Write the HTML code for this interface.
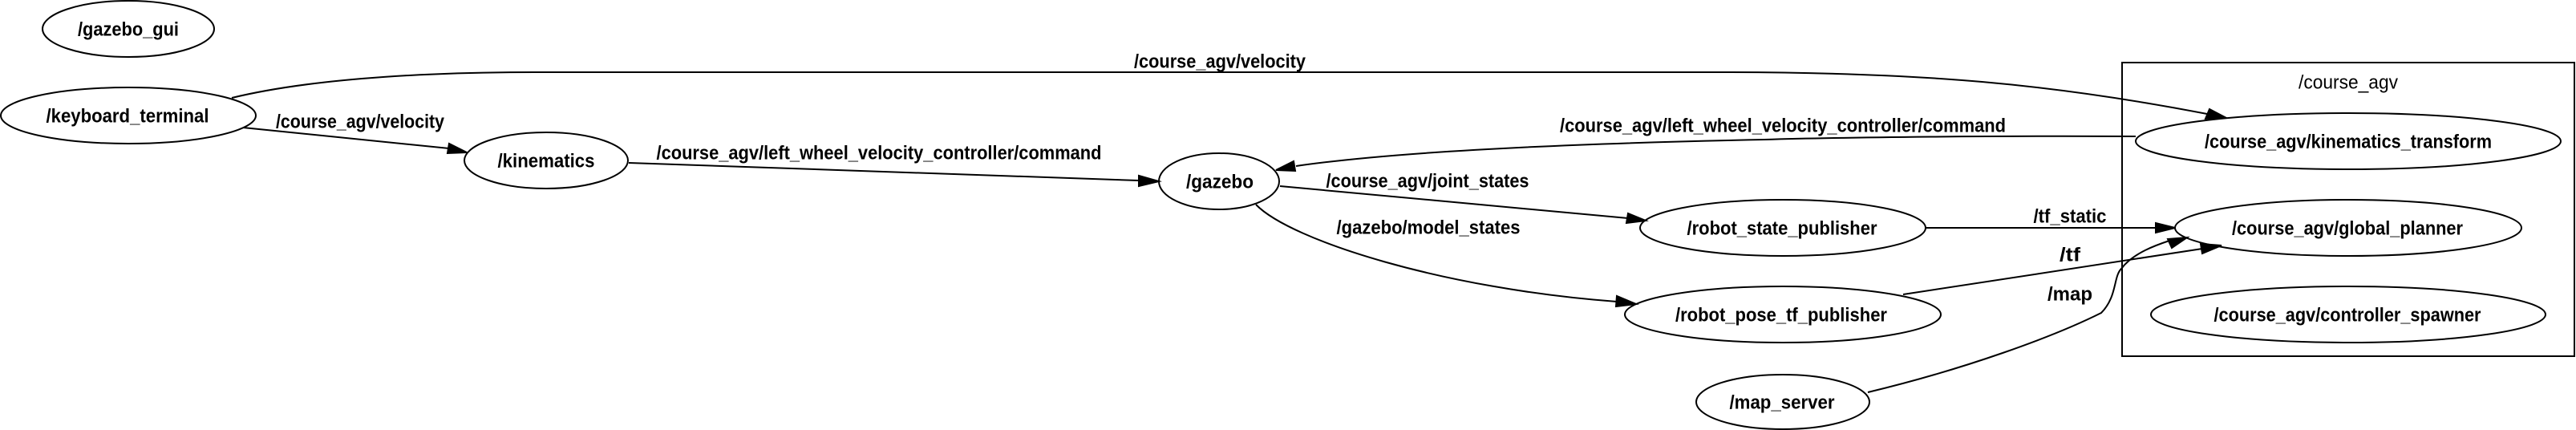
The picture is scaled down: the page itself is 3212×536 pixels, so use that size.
<!DOCTYPE html>
<html><head><meta charset="utf-8"><style>
html,body{margin:0;padding:0;background:#fff;}
svg{display:block;}
text{font-family:"Liberation Sans","DejaVu Sans",sans-serif;font-weight:bold;font-size:24px;fill:#000;}
</style></head><body>
<svg width="3212" height="536" viewBox="0 0 3212 536" xmlns="http://www.w3.org/2000/svg">
<g fill="none" stroke="#000" stroke-width="2">
<rect x="2646" y="78" width="564" height="366"/>
<ellipse cx="160" cy="36" rx="107" ry="35"/>
<ellipse cx="160" cy="144" rx="159" ry="35"/>
<ellipse cx="681" cy="200" rx="102" ry="35"/>
<ellipse cx="1520" cy="226" rx="75" ry="35"/>
<ellipse cx="2223" cy="284" rx="178" ry="35"/>
<ellipse cx="2223" cy="392" rx="197" ry="35"/>
<ellipse cx="2223" cy="501" rx="108" ry="34"/>
<ellipse cx="2928" cy="176" rx="265" ry="35"/>
<ellipse cx="2928" cy="284" rx="216" ry="35"/>
<ellipse cx="2928" cy="392" rx="246" ry="35"/>
<path d="M289,122 C400,95 560,90 666,90 L2150,90 C2400,90 2560,105 2752,142"/>
<path d="M303,159 L560,185"/>
<path d="M784,203 L1420,225"/>
<path d="M2663,170 C2500,169 2300,171 2200,174 C1900,180 1720,192 1616,207"/>
<path d="M1596,232 L2030,272"/>
<path d="M1566,255 C1610,300 1800,360 2016,376"/>
<path d="M2401,284 L2688,284"/>
<path d="M2373,367 L2746,310"/>
<path d="M2329,489 C2450,460 2560,420 2620,390 C2640,370 2635,345 2645,335 C2660,315 2690,305 2705,300"/>
</g>
<g fill="#000" stroke="#000" stroke-width="2">
<polygon points="2776,147 2750,148 2755,136"/>
<polygon points="582,190 558,191 560,179"/>
<polygon points="1445,226 1420,232 1420,219"/>
<polygon points="1591,212 1613,201 1615,213"/>
<polygon points="2052,275 2028,278 2030,266"/>
<polygon points="2040,379 2015,382 2016,369"/>
<polygon points="2712,284 2688,290 2688,278"/>
<polygon points="2770,306 2746,316 2744,304"/>
<polygon points="2727,296 2708,309 2703,298"/>
</g>
<g text-anchor="middle" dominant-baseline="central">
<text x="160" y="37" textLength="126" lengthAdjust="spacingAndGlyphs">/gazebo_gui</text>
<text x="159" y="145" textLength="203" lengthAdjust="spacingAndGlyphs">/keyboard_terminal</text>
<text x="681" y="201" textLength="121" lengthAdjust="spacingAndGlyphs">/kinematics</text>
<text x="1521" y="227" textLength="84" lengthAdjust="spacingAndGlyphs">/gazebo</text>
<text x="2222" y="285" textLength="237" lengthAdjust="spacingAndGlyphs">/robot_state_publisher</text>
<text x="2221" y="393" textLength="264" lengthAdjust="spacingAndGlyphs">/robot_pose_tf_publisher</text>
<text x="2222" y="502" textLength="131" lengthAdjust="spacingAndGlyphs">/map_server</text>
<text x="2928" y="103" textLength="124" lengthAdjust="spacingAndGlyphs" style="font-weight:normal">/course_agv</text>
<text x="2928" y="177" textLength="358" lengthAdjust="spacingAndGlyphs">/course_agv/kinematics_transform</text>
<text x="2927" y="285" textLength="288" lengthAdjust="spacingAndGlyphs">/course_agv/global_planner</text>
<text x="2927" y="393" textLength="333" lengthAdjust="spacingAndGlyphs">/course_agv/controller_spawner</text>
<text x="1521" y="77" textLength="214" lengthAdjust="spacingAndGlyphs">/course_agv/velocity</text>
<text x="449" y="152" textLength="210" lengthAdjust="spacingAndGlyphs">/course_agv/velocity</text>
<text x="1096" y="191" textLength="555" lengthAdjust="spacingAndGlyphs">/course_agv/left_wheel_velocity_controller/command</text>
<text x="2223" y="157" textLength="556" lengthAdjust="spacingAndGlyphs">/course_agv/left_wheel_velocity_controller/command</text>
<text x="1780" y="226" textLength="253" lengthAdjust="spacingAndGlyphs">/course_agv/joint_states</text>
<text x="1781" y="284" textLength="229" lengthAdjust="spacingAndGlyphs">/gazebo/model_states</text>
<text x="2581" y="270" textLength="91" lengthAdjust="spacingAndGlyphs">/tf_static</text>
<text x="2581" y="318" textLength="26" lengthAdjust="spacingAndGlyphs">/tf</text>
<text x="2581" y="367" textLength="56" lengthAdjust="spacingAndGlyphs">/map</text>
</g>
</svg>
</body></html>
